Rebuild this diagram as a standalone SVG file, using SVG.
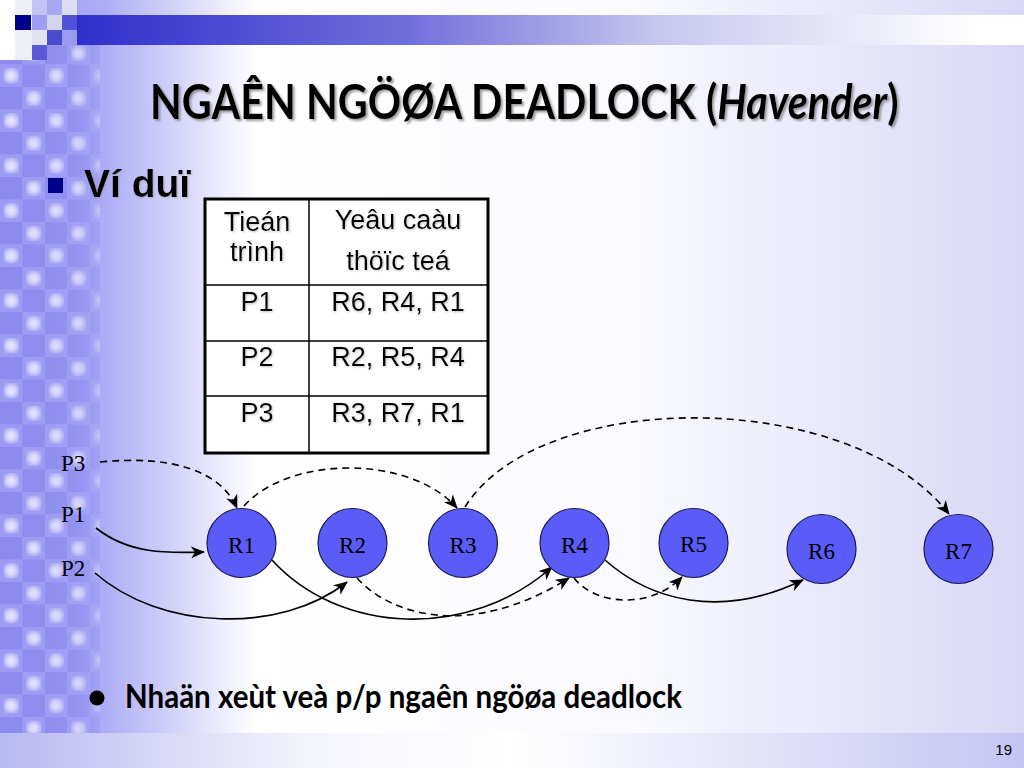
<svg xmlns="http://www.w3.org/2000/svg" width="1024" height="768" viewBox="0 0 1024 768">
<defs>
<linearGradient id="bg" x1="0" y1="0" x2="1" y2="0">
<stop offset="0" stop-color="#9494f2"/>
<stop offset="0.1" stop-color="#acacf6"/>
<stop offset="0.25" stop-color="#ffffff"/>
<stop offset="0.6" stop-color="#fbfbff"/>
<stop offset="1" stop-color="#d8d8f6"/>
</linearGradient>
<linearGradient id="topband" x1="0" y1="0" x2="1" y2="0">
<stop offset="0" stop-color="#2f2fcc"/>
<stop offset="0.35" stop-color="#7070dc"/>
<stop offset="0.62" stop-color="#c8c8ef"/>
<stop offset="0.95" stop-color="#ffffff"/>
</linearGradient>
<linearGradient id="botband" x1="0" y1="0" x2="1" y2="0">
<stop offset="0" stop-color="#b8b8f2"/>
<stop offset="0.3" stop-color="#f4f4fc"/>
<stop offset="0.5" stop-color="#ffffff"/>
<stop offset="1" stop-color="#c4c4f2"/>
</linearGradient>
<linearGradient id="fadeH" x1="0" y1="0" x2="1" y2="0">
<stop offset="0" stop-color="#fff" stop-opacity="0.9"/>
<stop offset="0.75" stop-color="#fff" stop-opacity="0.7"/>
<stop offset="1" stop-color="#fff" stop-opacity="0.3"/>
</linearGradient>
<mask id="checkMask">
<rect x="0" y="0" width="100" height="768" fill="url(#fadeH)"/>
</mask>
<radialGradient id="glow" cx="0.5" cy="0.5" r="0.6">
<stop offset="0" stop-color="#f4f4ff"/>
<stop offset="0.4" stop-color="#e4e4fc"/>
<stop offset="1" stop-color="#a2a2f4"/>
</radialGradient>
<pattern id="checker" x="0" y="42" width="45" height="45" patternUnits="userSpaceOnUse">
<rect x="0" y="0" width="22.5" height="22.5" fill="#8a8aee"/>
<rect x="22.5" y="0" width="22.5" height="22.5" fill="#9c9cf4"/>
<rect x="0" y="22.5" width="22.5" height="22.5" fill="#9c9cf4"/>
<rect x="22.5" y="22.5" width="22.5" height="22.5" fill="#8a8aee"/>
<rect x="26" y="3.5" width="15.5" height="15.5" fill="url(#glow)"/>
<rect x="3.5" y="26" width="15.5" height="15.5" fill="url(#glow)"/>
</pattern>
<filter id="shadow" x="-5%" y="-20%" width="110%" height="150%">
<feDropShadow dx="2" dy="2" stdDeviation="1" flood-color="#777" flood-opacity="0.7"/>
</filter>
<filter id="shadowLight" x="-5%" y="-20%" width="110%" height="150%">
<feDropShadow dx="1" dy="1" stdDeviation="0.8" flood-color="#999" flood-opacity="0.6"/>
</filter>
<marker id="arr" markerUnits="userSpaceOnUse" markerWidth="14" markerHeight="12" refX="13" refY="6" orient="auto" viewBox="0 0 14 12">
<path d="M0,0 L14,6 L0,12 L4,6 z" fill="#000"/>
</marker>
<style>
.node circle{fill:#5b5bf7;stroke:#1a1a55;stroke-width:1.2}
.node text,.plabel{font-family:"Liberation Serif","Times New Roman",serif;font-size:23px;fill:#000}
.node text{text-anchor:middle}
.edge{fill:none;stroke:#000;stroke-width:1.6;marker-end:url(#arr)}
.dash{stroke-dasharray:7,5}
.cell{font-family:"Liberation Sans",Arial,sans-serif;font-size:27px;fill:#000;text-anchor:middle}
.grid{stroke:#000;stroke-width:1.5;fill:none}
.title{font-family:Lato,"Open Sans",sans-serif;font-size:47px;font-weight:bold;fill:#000}
</style>
</defs>

<!-- background -->
<rect x="0" y="0" width="1024" height="768" fill="url(#bg)"/>
<rect x="0" y="42" width="100" height="692" fill="url(#checker)" mask="url(#checkMask)"/>

<!-- top-left corner blocks -->
<rect x="0" y="0" width="32" height="60" fill="#eeeef6"/>
<rect x="0" y="0" width="15" height="60" fill="#ffffff"/>
<rect x="32" y="0" width="15" height="15" fill="#c4c4f2"/>
<rect x="47" y="0" width="15" height="15" fill="#a8a8f0"/>
<rect x="62" y="0" width="15" height="15" fill="#dcdcf2"/>
<rect x="15" y="15" width="16" height="15" fill="#00008a"/>
<rect x="32" y="15" width="15" height="15" fill="#9e9ef2"/>
<rect x="47" y="15" width="15" height="15" fill="#d4d4ea"/>
<rect x="62" y="15" width="15" height="15" fill="#5252d6"/>
<rect x="32" y="30" width="15" height="15" fill="#e2e2f2"/>
<rect x="47" y="30" width="15" height="15" fill="#4a4acc"/>
<rect x="62" y="30" width="15" height="15" fill="#9a9af0"/>
<rect x="32" y="45" width="15" height="15" fill="#5a5ad6"/>

<!-- top band -->
<rect x="77" y="15" width="947" height="30" fill="url(#topband)"/>
<!-- bottom band -->
<rect x="0" y="733" width="1024" height="35" fill="url(#botband)"/>

<!-- title -->
<g id="title" filter="url(#shadow)">
<text class="title" transform="translate(150,119) scale(0.88,1)">NGAÊN NGÖØA DEADLOCK (<tspan font-style="italic">Havender</tspan>)</text>
</g>

<!-- bullet Ví duï -->
<rect x="48" y="178" width="15" height="15" fill="#00008a"/>
<text x="84" y="197" font-family="'Liberation Sans',Arial,sans-serif" font-size="39" font-weight="bold" fill="#000" filter="url(#shadowLight)">Ví duï</text>

<!-- table -->
<g id="table">
<rect x="205" y="199" width="283" height="254" fill="#ffffff"/>
<line class="grid" x1="309" y1="199" x2="309" y2="453"/>
<line class="grid" x1="205" y1="285" x2="488" y2="285"/>
<line class="grid" x1="205" y1="341" x2="488" y2="341"/>
<line class="grid" x1="205" y1="396" x2="488" y2="396"/>
<rect x="205" y="199" width="283" height="254" fill="none" stroke="#000" stroke-width="3"/>
<g filter="url(#shadowLight)">
<text class="cell" x="257" y="231">Tieán</text>
<text class="cell" x="257" y="261">trình</text>
<text class="cell" x="398" y="229">Yeâu caàu</text>
<text class="cell" x="398" y="270">thöïc teá</text>
<text class="cell" x="257" y="311">P1</text>
<text class="cell" x="398" y="311">R6, R4, R1</text>
<text class="cell" x="257" y="366">P2</text>
<text class="cell" x="398" y="366">R2, R5, R4</text>
<text class="cell" x="257" y="422">P3</text>
<text class="cell" x="398" y="422">R3, R7, R1</text>
</g>
</g>

<!-- process labels -->
<g id="P3"><text class="plabel" x="61" y="471">P3</text></g>
<g id="P1"><text class="plabel" x="61" y="522">P1</text></g>
<g id="P2"><text class="plabel" x="61" y="576">P2</text></g>

<!-- connectors -->
<g id="connectors">
<path class="edge dash" d="M100,462 C170,455 220,470 237,508"/>
<path class="edge dash" d="M244,506 C290,455 410,455 457,508"/>
<path class="edge dash" d="M465,507 C540,387 850,387 949,514"/>
<path class="edge" d="M96,528 C130,555 170,553 204,552"/>
<path class="edge" d="M95,573 C160,630 280,635 347,582"/>
<path class="edge" d="M272,560 C340,635 470,640 552,567"/>
<path class="edge dash" d="M357,578 C390,615 470,640 569,578"/>
<path class="edge dash" d="M574,578 C595,605 650,610 682,577"/>
<path class="edge" d="M605,560 C650,600 720,620 803,580"/>
</g>

<!-- resource nodes -->
<g id="R1" class="node"><circle cx="241.5" cy="543" r="34.5"/><text x="241.5" y="553">R1</text></g>
<g id="R2" class="node"><circle cx="352.5" cy="543" r="34.5"/><text x="352.5" y="553">R2</text></g>
<g id="R3" class="node"><circle cx="463" cy="543" r="34.5"/><text x="463" y="553">R3</text></g>
<g id="R4" class="node"><circle cx="574.5" cy="543" r="34.5"/><text x="574.5" y="553">R4</text></g>
<g id="R5" class="node"><circle cx="693.5" cy="543" r="34.5"/><text x="693.5" y="552">R5</text></g>
<g id="R6" class="node"><circle cx="821.5" cy="549" r="34.5"/><text x="821.5" y="559">R6</text></g>
<g id="R7" class="node"><circle cx="958.5" cy="549" r="34.5"/><text x="958.5" y="559">R7</text></g>

<!-- bottom bullet -->
<circle cx="97" cy="698" r="7.5" fill="#000"/>
<text x="125" y="708" font-family="Lato,'Open Sans',sans-serif" font-size="33" font-weight="bold" fill="#000" textLength="557" lengthAdjust="spacingAndGlyphs">Nhaän xeùt veà p/p ngaên ngöøa deadlock</text>

<!-- page number -->
<text x="1012" y="755" font-family="'Liberation Sans',Arial,sans-serif" font-size="15" fill="#000" text-anchor="end">19</text>
</svg>
